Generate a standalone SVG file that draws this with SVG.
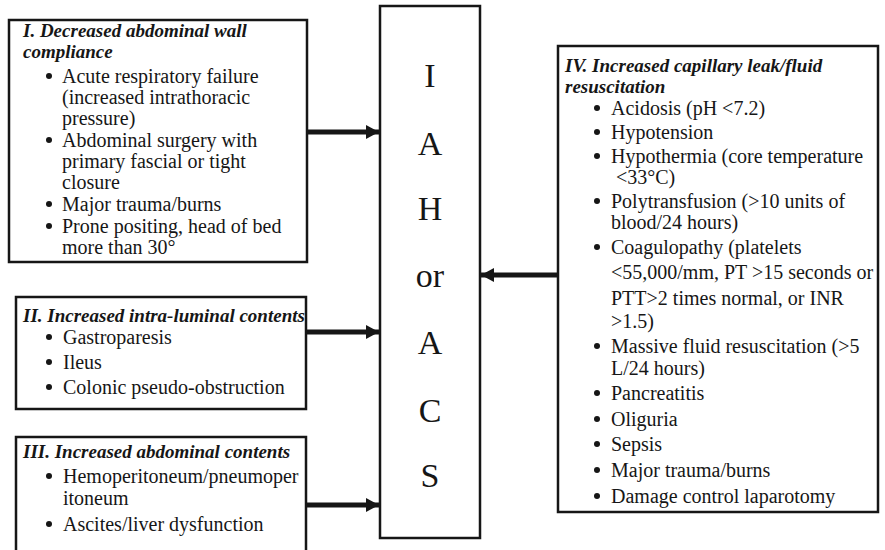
<svg xmlns="http://www.w3.org/2000/svg" width="885" height="550" viewBox="0 0 885 550">
<style>
.box{fill:#fff;stroke:#161616;stroke-width:2.5}
.t{font-family:"Liberation Serif","Times New Roman",serif;font-size:20px;fill:#161616}
.h{font-family:"Liberation Serif","Times New Roman",serif;font-size:19px;font-weight:bold;font-style:italic;fill:#161616}
.big{font-family:"Liberation Serif","Times New Roman",serif;font-size:34px;fill:#161616;text-anchor:middle}
.b{fill:#161616}
.c{stroke:#161616;stroke-width:5;fill:none}
</style>
<defs>
<marker id="ah" markerUnits="userSpaceOnUse" markerWidth="14" markerHeight="14" refX="13" refY="7" orient="auto" viewBox="0 0 14 14">
<path d="M0,0 L13,7 L0,14 Z" fill="#161616"/>
</marker>
</defs>
<g id="box1">
<rect class="box" x="9" y="20" width="298" height="242"/>
<text class="h" x="23" y="37">I. Decreased abdominal wall</text>
<text class="h" x="23" y="58">compliance</text>
<circle class="b" cx="49" cy="76" r="3"/>
<text class="t" x="62" y="83">Acute respiratory failure</text>
<text class="t" x="62" y="104">(increased intrathoracic</text>
<text class="t" x="62" y="125">pressure)</text>
<circle class="b" cx="49" cy="140" r="3"/>
<text class="t" x="62" y="147">Abdominal surgery with</text>
<text class="t" x="62" y="168">primary fascial or tight</text>
<text class="t" x="62" y="189">closure</text>
<circle class="b" cx="49" cy="204" r="3"/>
<text class="t" x="62" y="211">Major trauma/burns</text>
<circle class="b" cx="49" cy="226" r="3"/>
<text class="t" x="62" y="233">Prone positing, head of bed</text>
<text class="t" x="62" y="254">more than 30°</text>
</g>
<g id="box2">
<rect class="box" x="16" y="297" width="290" height="112"/>
<text class="h" x="23" y="322">II. Increased intra-luminal contents</text>
<circle class="b" cx="49" cy="337" r="3"/>
<text class="t" x="63" y="344">Gastroparesis</text>
<circle class="b" cx="49" cy="362" r="3"/>
<text class="t" x="63" y="369">Ileus</text>
<circle class="b" cx="49" cy="387" r="3"/>
<text class="t" x="63" y="394">Colonic pseudo-obstruction</text>
</g>
<g id="box3">
<rect class="box" x="16" y="437" width="290" height="130"/>
<text class="h" x="23" y="458">III. Increased abdominal contents</text>
<circle class="b" cx="49" cy="476" r="3"/>
<text class="t" x="63" y="483">Hemoperitoneum/pneumoper</text>
<text class="t" x="63" y="505">itoneum</text>
<circle class="b" cx="49" cy="524" r="3"/>
<text class="t" x="63" y="531">Ascites/liver dysfunction</text>
</g>
<g id="iah">
<rect class="box" x="380" y="6" width="100" height="532"/>
<text class="big" x="430" y="87">I</text>
<text class="big" x="430" y="155">A</text>
<text class="big" x="430" y="220">H</text>
<text class="big" x="430" y="287">or</text>
<text class="big" x="430" y="354">A</text>
<text class="big" x="430" y="422">C</text>
<text class="big" x="430" y="487">S</text>
</g>
<g id="box4">
<rect class="box" x="558" y="46" width="320" height="466"/>
<text class="h" x="565" y="72">IV. Increased capillary leak/fluid</text>
<text class="h" x="565" y="93">resuscitation</text>
<circle class="b" cx="597" cy="108" r="3"/>
<text class="t" x="611" y="115">Acidosis (pH &lt;7.2)</text>
<circle class="b" cx="597" cy="132" r="3"/>
<text class="t" x="611" y="139">Hypotension</text>
<circle class="b" cx="597" cy="156" r="3"/>
<text class="t" x="611" y="163">Hypothermia (core temperature</text>
<text class="t" x="616" y="184">&lt;33°C)</text>
<circle class="b" cx="597" cy="201" r="3"/>
<text class="t" x="611" y="208">Polytransfusion (&gt;10 units of</text>
<text class="t" x="611" y="229">blood/24 hours)</text>
<circle class="b" cx="597" cy="247" r="3"/>
<text class="t" x="611" y="254">Coagulopathy (platelets</text>
<text class="t" x="611" y="279">&lt;55,000/mm, PT &gt;15 seconds or</text>
<text class="t" x="611" y="305">PTT&gt;2 times normal, or INR</text>
<text class="t" x="611" y="328">&gt;1.5)</text>
<circle class="b" cx="597" cy="346" r="3"/>
<text class="t" x="611" y="353">Massive fluid resuscitation (&gt;5</text>
<text class="t" x="611" y="375">L/24 hours)</text>
<circle class="b" cx="597" cy="393" r="3"/>
<text class="t" x="611" y="400">Pancreatitis</text>
<circle class="b" cx="597" cy="419" r="3"/>
<text class="t" x="611" y="426">Oliguria</text>
<circle class="b" cx="597" cy="444" r="3"/>
<text class="t" x="611" y="451">Sepsis</text>
<circle class="b" cx="597" cy="470" r="3"/>
<text class="t" x="611" y="477">Major trauma/burns</text>
<circle class="b" cx="597" cy="496" r="3"/>
<text class="t" x="611" y="503">Damage control laparotomy</text>
</g>
<g id="connectors">
<line class="c" x1="307" y1="132" x2="379" y2="132" marker-end="url(#ah)"/>
<line class="c" x1="306" y1="332" x2="379" y2="332" marker-end="url(#ah)"/>
<line class="c" x1="306" y1="505" x2="379" y2="505" marker-end="url(#ah)"/>
<line class="c" x1="558" y1="275" x2="481" y2="275" marker-end="url(#ah)"/>
</g>
</svg>
